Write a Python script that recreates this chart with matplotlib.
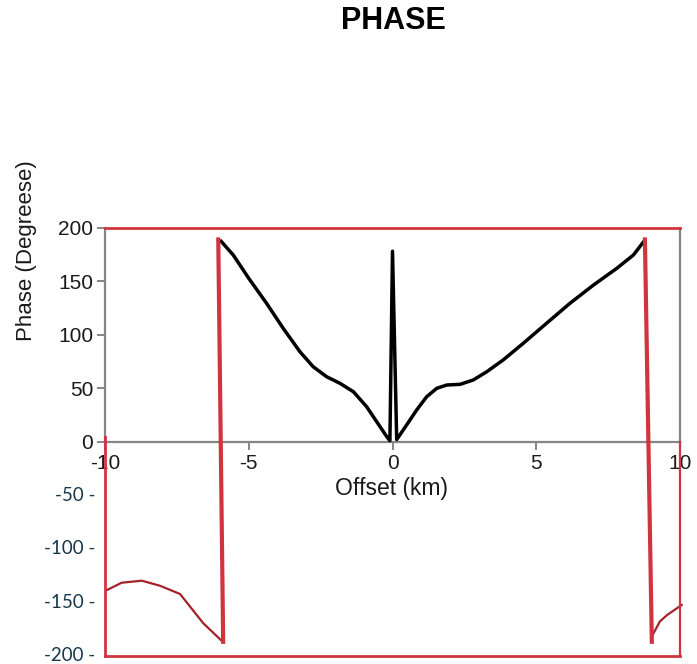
import matplotlib
matplotlib.use('Agg')
import matplotlib.pyplot as plt
import matplotlib.transforms as mtransforms

plt.rcParams['font.family'] = ['Liberation Sans', 'DejaVu Sans']

# phase curve (black), offset km vs degrees
offset = [-6.0, -5.54, -5.0, -4.38, -3.80, -3.22, -2.76, -2.29, -1.83, -1.36,
          -0.90, -0.55, -0.20, -0.09, 0.0, 0.146, 0.49, 0.84, 1.19, 1.54,
          1.89, 2.35, 2.81, 3.28, 3.85, 4.55, 5.36, 6.17, 6.99, 7.80,
          8.38, 8.78]
phase = [188.5, 174.5, 152.7, 129.3, 105.9, 84.1, 70.1, 60.7, 54.6, 46.7,
         32.7, 18.7, 4.7, 1.0, 178, 2.0, 15.6, 29.6, 42.1, 49.9,
         53.0, 53.6, 57.7, 65.4, 76.4, 92.0, 110.7, 129.3, 146.4, 162.0,
         174.5, 188.5]

# hand-drawn wrapped parts (dark red)
wrap_left_x = [-9.93, -9.42, -8.72, -8.09, -7.39, -6.58, -5.91]
wrap_left_y = [-138.6, -131.8, -129.9, -134.6, -142.3, -169.7, -186.9]
wrap_right_x = [9.02, 9.30, 9.55, 10.06]
wrap_right_y = [-182, -168, -162, -152.6]

# red jump lines
jump_left_x = [-6.06, -5.89]
jump_right_x = [8.78, 9.02]
jump_y = [189, -187]

xticks = [-10, -5, 0, 5, 10]
yticks = [0, 50, 100, 150, 200]
neg_ticks = [-50, -100, -150, -200]

fig = plt.figure(figsize=(6.97, 6.64), dpi=100)
ax = fig.add_axes([105/697, 1 - 655.7/664, 575/697, 428/664])
ax.set_xlim(-10, 10)
ax.set_ylim(-200, 200)

grey = '#858585'
for s in ['left', 'right', 'bottom']:
    ax.spines[s].set_color(grey)
    ax.spines[s].set_linewidth(1.6)
ax.spines['top'].set_visible(False)
ax.spines['left'].set_bounds(0, 200)
ax.spines['right'].set_bounds(0, 200)
ax.spines['bottom'].set_position(('data', 0))

ax.set_xticks(xticks)
ax.set_xticklabels([str(t) for t in xticks])
ax.set_yticks(yticks)
ax.tick_params(colors=grey, width=1.4, length=5.5, labelsize=15, labelcolor='#1a1a1a')
ax.tick_params(axis='y', pad=3)
ax.tick_params(axis='x', pad=3)

ax.plot(offset, phase, color='black', lw=2.5, solid_joinstyle='round',
        solid_capstyle='butt', zorder=3)

red = '#d0343f'
dark_red = '#a3222c'
ax.plot(wrap_left_x, wrap_left_y, color=dark_red, lw=1.6, clip_on=False, zorder=3)
ax.plot(wrap_right_x, wrap_right_y, color=dark_red, lw=1.6, clip_on=False, zorder=3)
ax.plot(jump_left_x, jump_y, color=red, lw=3.0, clip_on=False, zorder=4)
ax.plot(jump_right_x, jump_y, color=red, lw=3.0, clip_on=False, zorder=4)

# red box around the full range
ax.plot([-10, 10], [200, 200], color=red, lw=2.0, clip_on=False, zorder=4)
ax.plot([-10, 10], [-200, -200], color=red, lw=2.0, clip_on=False, zorder=4)
ax.plot([-10, -10], [4, -200], color=red, lw=2.0, clip_on=False, zorder=4)
ax.plot([10, 10], [0, -200], color=red, lw=1.6, clip_on=False, zorder=4)

# pasted negative scale labels
trans = mtransforms.blended_transform_factory(ax.transAxes, ax.transData)
for t in neg_ticks:
    ax.text(-0.017, t, f'{t} -', transform=trans, ha='right', va='center',
            fontsize=13.5, color='#17384a', family=['Lato', 'DejaVu Sans'])

fig.text(391.5/697, 1 - 489/664, 'Offset (km)', ha='center', va='center',
         fontsize=16.5, color='#1a1a1a')
fig.text(27/697, 1 - 251/664, 'Phase (Degreese)', ha='center', va='center',
         rotation=90, fontsize=16, color='#1a1a1a')
fig.text(393/697, 1 - 21/664, 'PHASE', ha='center', va='center',
         fontsize=22, fontweight='bold', color='black')

fig.savefig('out.png', dpi=100)
